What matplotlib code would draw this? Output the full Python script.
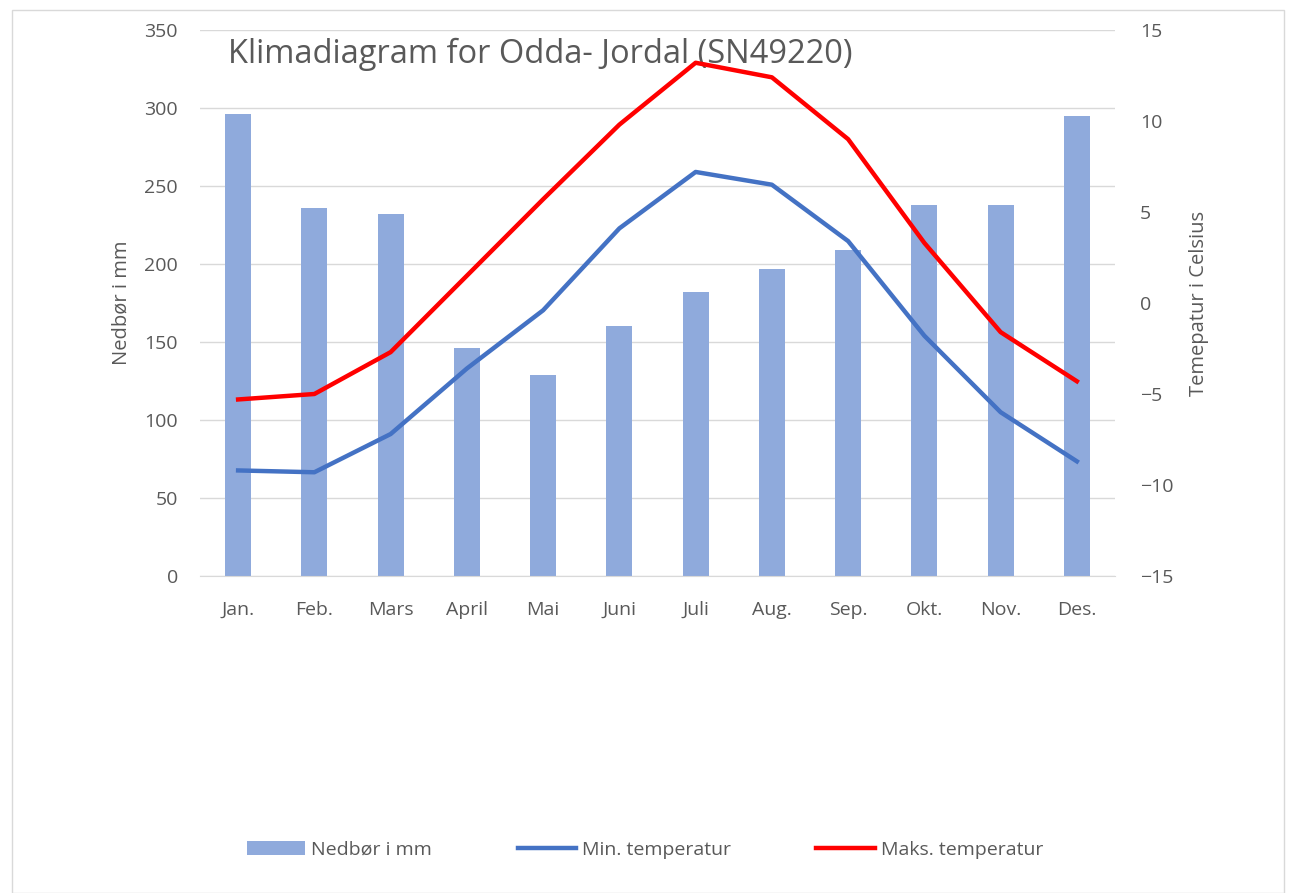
import numpy as np
import matplotlib.pyplot as plt
from matplotlib.lines import Line2D
from matplotlib.patches import Patch

# Data
months = ["Jan.", "Feb.", "Mars", "April", "Mai", "Juni", "Juli", "Aug.", "Sep.", "Okt.", "Nov.", "Des."]
precip_mm = [296, 236, 232, 146, 129, 160, 182, 197, 209, 238, 238, 295]
min_temp = [-9.2, -9.3, -7.2, -3.6, -0.4, 4.1, 7.2, 6.5, 3.4, -1.8, -6.0, -8.7]
max_temp = [-5.3, -5.0, -2.7, 1.5, 5.7, 9.8, 13.2, 12.4, 9.0, 3.3, -1.6, -4.3]

TEXT = "#595959"
BAR = "#8FAADC"
MIN_C = "#4472C4"
MAX_C = "#FF0000"

plt.rcParams["font.family"] = ["Open Sans", "DejaVu Sans"]

fig = plt.figure(figsize=(12.94, 8.93), dpi=100)
fig.patches.append(plt.Rectangle((12 / 1294, 0), 1272 / 1294, 883 / 893, transform=fig.transFigure,
                                 fill=False, edgecolor="#D9D9D9", linewidth=1))
ax = fig.add_axes([200 / 1294, 1 - 576 / 893, 915 / 1294, 546 / 893])
ax2 = ax.twinx()

x = np.arange(len(months))
ax.bar(x, precip_mm, width=0.34, color=BAR, zorder=2)
ax.set_ylim(0, 350)
ax.set_yticks(range(0, 351, 50))
ax.set_xlim(-0.5, 11.5)
ax.set_xticks(x)
ax.set_xticklabels(months)
ax.grid(axis="y", color="#D9D9D9", linewidth=1, zorder=0)
ax.set_axisbelow(True)

ax2.plot(x, min_temp, color=MIN_C, linewidth=3.2, zorder=3)
ax2.plot(x, max_temp, color=MAX_C, linewidth=3.2, zorder=3)
ax2.set_ylim(-15, 15)
ax2.set_yticks(range(-15, 16, 5))

for a in (ax, ax2):
    for side in ("top", "left", "right", "bottom"):
        a.spines[side].set_visible(False)
    a.tick_params(length=0, labelsize=14, labelcolor=TEXT)
ax.spines["bottom"].set_visible(True)
ax.spines["bottom"].set_color("#D9D9D9")
ax.tick_params(axis="x", pad=18)
ax.tick_params(axis="y", pad=16)
ax2.tick_params(axis="y", pad=18)

ax.set_ylabel("Nedbør i mm", fontsize=14.5, color=TEXT, labelpad=9)
ax2.set_ylabel("Temepatur i Celsius", fontsize=14.5, color=TEXT, labelpad=11)

ax.text(0.031, 0.985, "Klimadiagram for Odda- Jordal (SN49220)", transform=ax.transAxes,
        fontsize=23.5, color=TEXT, va="top", ha="left")

handles = [
    Patch(facecolor=BAR, edgecolor="none"),
    Line2D([0], [0], color=MIN_C, linewidth=3.2),
    Line2D([0], [0], color=MAX_C, linewidth=3.2),
]
labels = ["Nedbør i mm", "Min. temperatur", "Maks. temperatur"]
fig.legend(handles, labels, loc="center", bbox_to_anchor=(645 / 1294, 1 - 850 / 893), ncol=3,
           frameon=False, fontsize=14, labelcolor=TEXT, handlelength=3.0, handletextpad=0.3,
           columnspacing=4.4)

fig.savefig("out.png", dpi=100)
